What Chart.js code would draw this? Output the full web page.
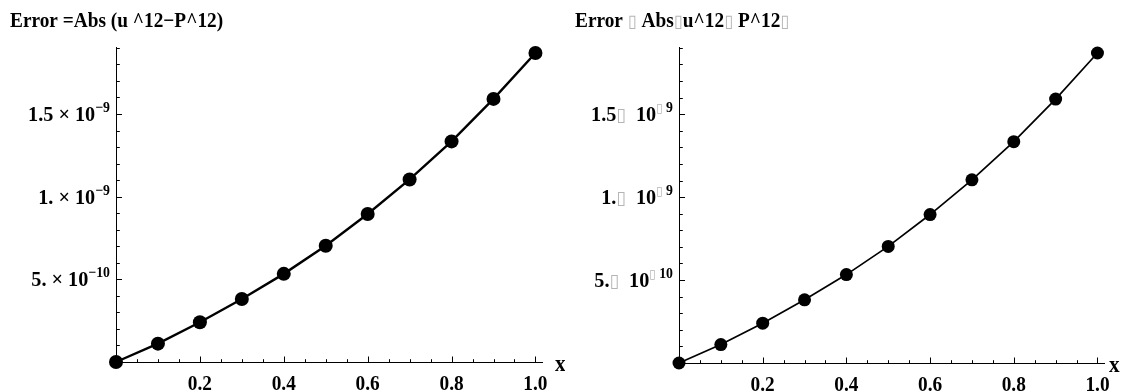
<!DOCTYPE html>
<html>
<head>
<meta charset="utf-8">
<script src="https://cdn.jsdelivr.net/npm/chart.js@4.4.1/dist/chart.umd.min.js"></script>
<style>
  html, body { margin: 0; padding: 0; background: #fff; }
  #wrap { position: relative; width: 1131px; height: 392px; }
  canvas { position: absolute; top: 0; }
</style>
</head>
<body>
<div id="wrap">
  <canvas id="left" width="565" height="392" style="left:0"></canvas>
  <canvas id="right" width="566" height="392" style="left:565px"></canvas>
</div>
<script>
// data
const xValues = [0, 0.1, 0.2, 0.3, 0.4, 0.5, 0.6, 0.7, 0.8, 0.9, 1.0];
const errValues = [0, 1.11e-10, 2.40e-10, 3.81e-10, 5.33e-10, 7.03e-10, 8.95e-10, 1.104e-9, 1.334e-9, 1.591e-9, 1.869e-9];

const xTickValues = [0.2, 0.4, 0.6, 0.8, 1.0];
const xTickLabels = ['0.2', '0.4', '0.6', '0.8', '1.0'];
const yTickValues = [5e-10, 1e-9, 1.5e-9];
const yMantissaLeft = ['5. × 10', '1. × 10', '1.5 × 10'];
const yExponentLeft = ['−10', '−9', '−9'];
const yMantissaRight = ['5.▯  10', '1.▯  10', '1.5▯  10'];
const yExponentRight = ['▯ 10', '▯ 9', '▯ 9'];

const titleLeft = 'Error =Abs (u ^12−P^12)';
const titleRight = 'Error ▯ Abs▯u^12▯ P^12▯';

const FONT = '"Liberation Serif", "Times New Roman", serif';
const SX = 0.92;

// split a run on the missing-glyph boxes so they can be drawn grey
function segments(parts) {
  const out = [];
  parts.forEach(p => {
    p.t.split(/(▯)/).forEach(s => {
      if (!s) return;
      if (s === '▯') out.push({ t: s, size: p.size * 0.85, dy: p.dy || 0, box: true });
      else out.push({ t: s, size: p.size, dy: p.dy || 0 });
    });
  });
  return out;
}

function drawRuns(ctx, parts, x, y, align) {
  const segs = segments(parts);
  let total = 0;
  segs.forEach(s => {
    ctx.font = s.box ? `${s.size}px "DejaVu Sans"` : `bold ${s.size}px ${FONT}`;
    s.w = ctx.measureText(s.t).width;
    total += s.w;
  });
  total *= SX;
  let start = x;
  if (align === 'right') start = x - total;
  else if (align === 'center') start = x - total / 2;
  ctx.save();
  ctx.translate(start, y);
  ctx.scale(SX, 1);
  ctx.textBaseline = 'alphabetic';
  ctx.textAlign = 'left';
  let cx = 0;
  segs.forEach(s => {
    ctx.font = s.box ? `${s.size}px "DejaVu Sans"` : `bold ${s.size}px ${FONT}`;
    ctx.fillStyle = s.box ? '#b4b4b4' : '#000';
    ctx.fillText(s.t, cx, s.dy);
    cx += s.w;
  });
  ctx.restore();
}

function axesPlugin(opts) {
  return {
    id: 'mmaAxes',
    beforeDatasetsDraw(chart) {
      const ctx = chart.ctx;
      const xs = chart.scales.x, ys = chart.scales.y;
      const x0 = Math.round(xs.getPixelForValue(0)) + 0.5;
      const y0 = Math.round(ys.getPixelForValue(0)) + 0.5;
      const xEnd = xs.getPixelForValue(xs.max);
      const yTop = ys.getPixelForValue(ys.max);
      ctx.save();
      ctx.strokeStyle = '#000';
      ctx.lineWidth = 1;
      ctx.beginPath();
      ctx.moveTo(x0, y0); ctx.lineTo(xEnd, y0);
      ctx.moveTo(x0, y0); ctx.lineTo(x0, yTop);
      // x ticks every 0.05, major every 0.2
      for (let i = 1; i * 0.05 <= xs.max + 1e-9; i++) {
        const px = Math.round(xs.getPixelForValue(i * 0.05)) + 0.5;
        const len = i % 4 === 0 ? 6 : 3.3;
        ctx.moveTo(px, y0); ctx.lineTo(px, y0 - len);
      }
      // y ticks every 1e-10, major every 5e-10
      for (let i = 1; i * 1e-10 <= ys.max * 1.0001; i++) {
        const py = Math.round(ys.getPixelForValue(i * 1e-10)) + 0.5;
        const len = i % 5 === 0 ? 5.5 : 3.3;
        ctx.moveTo(x0, py); ctx.lineTo(x0 + len, py);
      }
      ctx.stroke();
      ctx.restore();
    },
    afterDraw(chart) {
      const ctx = chart.ctx;
      const xs = chart.scales.x, ys = chart.scales.y;
      const x0 = xs.getPixelForValue(0);
      const y0 = ys.getPixelForValue(0);
      xTickValues.forEach((v, i) => {
        drawRuns(ctx, [{ t: xTickLabels[i], size: 21 }], xs.getPixelForValue(v), y0 + 28, 'center');
      });
      yTickValues.forEach((v, i) => {
        const py = ys.getPixelForValue(v);
        drawRuns(ctx, [
          { t: opts.mant[i], size: 22 },
          { t: opts.exp[i], size: 15, dy: -9 }
        ], x0 - 6, py + 7, 'right');
      });
      drawRuns(ctx, [{ t: 'x', size: 23 }], xs.getPixelForValue(xs.max) + opts.xLabelGap, y0 + 9, 'left');
      drawRuns(ctx, [{ t: opts.title, size: 21 }], opts.titleX, 27, 'left');
    }
  };
}

function makeChart(id, opts) {
  return new Chart(document.getElementById(id), {
    type: 'line',
    data: {
      datasets: [{
        data: xValues.map((x, i) => ({ x: x, y: errValues[i] })),
        borderColor: '#000',
        borderWidth: opts.lineWidth,
        backgroundColor: '#000',
        pointBackgroundColor: '#000',
        pointBorderColor: '#000',
        pointRadius: opts.radius,
        pointBorderWidth: 0,
        tension: 0,
        clip: false
      }]
    },
    options: {
      responsive: false,
      animation: false,
      events: [],
      layout: { padding: opts.padding },
      plugins: { legend: { display: false }, tooltip: { enabled: false } },
      scales: {
        x: { type: 'linear', min: 0, max: 1.018, display: false },
        y: { type: 'linear', min: 0, max: 1.905e-9, display: false }
      }
    },
    plugins: [axesPlugin(opts)]
  });
}

makeChart('left', {
  title: titleLeft, titleX: 10,
  mant: yMantissaLeft, exp: yExponentLeft,
  padding: { left: 116, right: 22, top: 47, bottom: 30 },
  lineWidth: 2.4, radius: 7, xLabelGap: 12
});
makeChart('right', {
  title: titleRight, titleX: 10,
  mant: yMantissaRight, exp: yExponentRight,
  padding: { left: 114, right: 26, top: 47, bottom: 29 },
  lineWidth: 1.7, radius: 6.5, xLabelGap: 4
});
</script>
</body>
</html>
